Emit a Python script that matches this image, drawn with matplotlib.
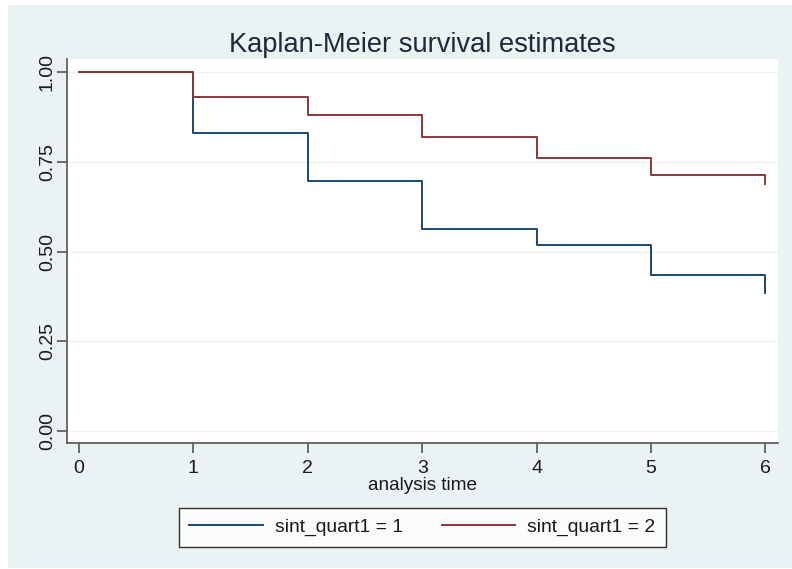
#!/usr/bin/env python3

import matplotlib
matplotlib.use('Agg')
import matplotlib.pyplot as plt
from matplotlib.patches import Rectangle

# Kaplan-Meier estimates
times = [0, 1, 2, 3, 4, 5, 6]
surv_q1 = [1.0, 0.831, 0.697, 0.564, 0.517, 0.434, 0.385]
surv_q2 = [1.0, 0.931, 0.879, 0.820, 0.760, 0.713, 0.689]
labels = ['sint_quart1 = 1', 'sint_quart1 = 2']
y_ticks = [0.0, 0.25, 0.5, 0.75, 1.0]
y_ticklabels = ['0.00', '0.25', '0.50', '0.75', '1.00']

BLUE = '#1a476f'
RED = '#90353b'
BG = '#eaf2f3'
TEXT = '#1a1a1a'


def main():
    plt.rcParams['font.family'] = ['Liberation Sans', 'DejaVu Sans']

    fig = plt.figure(figsize=(7.92, 5.69), dpi=100)
    fig.patch.set_facecolor('white')
    # stata-like graph region background
    fig.patches.append(Rectangle((8 / 792, 1 - 568 / 569), 784 / 792, 563 / 569,
                                 transform=fig.transFigure, facecolor=BG,
                                 edgecolor='none', zorder=-10))

    ax = fig.add_axes([67 / 792, 1 - 443 / 569, 711 / 792, 384 / 569])
    ax.set_facecolor('white')

    for y in y_ticks:
        ax.axhline(y, color=BG, lw=1.0, zorder=0)

    ax.step(times, surv_q1, where='post', color=BLUE, lw=1.4, label=labels[0], zorder=2)
    ax.step(times, surv_q2, where='post', color=RED, lw=1.4, label=labels[1], zorder=3)

    ax.set_xlim(-0.105, 6.11)
    ax.set_ylim(-0.033, 1.036)

    ax.set_xticks(times)
    ax.set_yticks(y_ticks)
    ax.set_yticklabels(y_ticklabels, rotation=90, va='center')

    for side in ['top', 'right']:
        ax.spines[side].set_visible(False)
    for side in ['left', 'bottom']:
        ax.spines[side].set_color('#555555')
        ax.spines[side].set_linewidth(1.2)

    ax.tick_params(axis='both', direction='out', length=7, width=1.2,
                   color='#555555', labelsize=14, labelcolor=TEXT)
    ax.tick_params(axis='x', pad=5)
    ax.tick_params(axis='y', pad=1)

    ax.set_xlabel('analysis time', fontsize=13.7, color=TEXT, labelpad=0)
    ax.set_title('Kaplan-Meier survival estimates', fontsize=19.6, color='#1e2a3a', pad=5)

    leg = ax.legend(loc='upper center', bbox_to_anchor=(0.5, -0.143), ncol=2,
                    fontsize=13.9, frameon=True, fancybox=False, handlelength=3.83,
                    columnspacing=1.97, borderpad=0.55, handletextpad=0.62)
    leg.get_frame().set_edgecolor('black')
    leg.get_frame().set_linewidth(1.0)
    for t in leg.get_texts():
        t.set_color(TEXT)

    fig.savefig('out.png', dpi=100, facecolor=fig.get_facecolor())


if __name__ == '__main__':
    main()
